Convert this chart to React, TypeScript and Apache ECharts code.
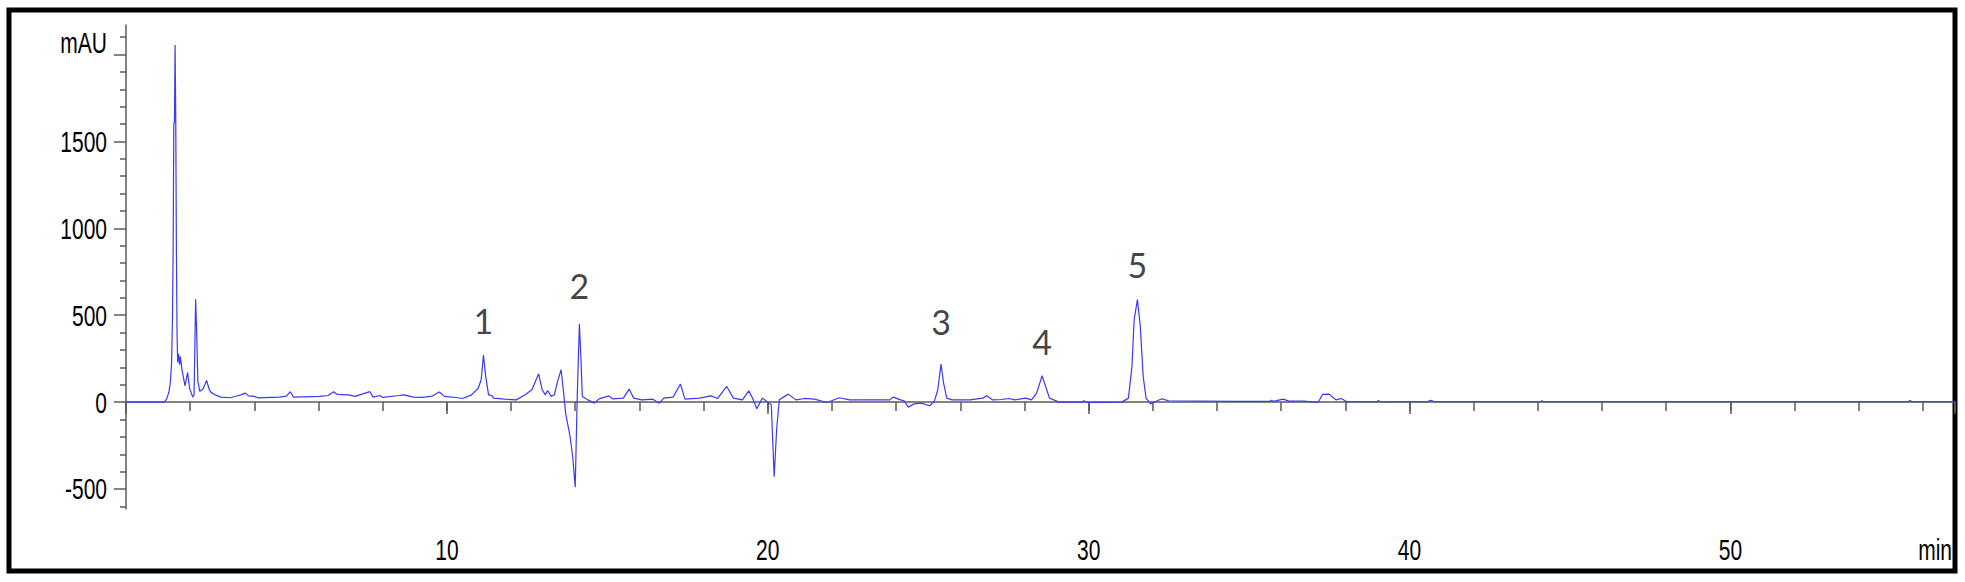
import React, { useEffect, useRef } from "react";
import * as echarts from "echarts";

// Retention time (min) and absorbance (mAU)
const times: number[] = [
  0, 1.2, 1.27, 1.34, 1.38, 1.42, 1.45, 1.47, 1.49, 1.51, 1.53, 1.55, 1.57, 1.59, 1.61, 1.63, 1.65, 1.67, 1.69, 1.75,
  1.84, 1.92, 1.98, 2.08, 2.12, 2.14, 2.17, 2.2, 2.24, 2.3, 2.4, 2.51, 2.6, 2.65, 2.8, 2.96, 3.24, 3.45, 3.58, 3.72,
  3.82, 4.0, 4.1, 4.77, 5.0, 5.12, 5.22, 6.03, 6.3, 6.47, 6.58, 6.93, 7.14, 7.6, 7.7, 7.91, 8.0, 8.5, 8.67, 8.95,
  9.23, 9.55, 9.76, 9.93, 10.35, 10.49, 10.77, 10.98, 11.07, 11.14, 11.21, 11.3, 11.39, 11.46, 11.8, 12.16, 12.44, 12.65, 12.86, 12.97,
  13.07, 13.14, 13.25, 13.35, 13.45, 13.56, 13.64, 13.7, 13.84, 13.92, 14.0, 14.06, 14.13, 14.18, 14.22, 14.39, 14.6, 14.74, 15.05, 15.16,
  15.5, 15.68, 15.82, 16.07, 16.42, 16.62, 16.76, 17.05, 17.28, 17.42, 17.88, 18.23, 18.44, 18.72, 18.93, 19.21, 19.41, 19.55, 19.66, 19.83,
  20.0, 20.11, 20.2, 20.28, 20.36, 20.64, 20.88, 21.15, 21.45, 21.85, 22.23, 22.55, 23.8, 23.91, 24.14, 24.25, 24.38, 24.56, 24.77, 25.05,
  25.19, 25.3, 25.4, 25.48, 25.58, 25.74, 26.3, 26.7, 26.82, 27.0, 27.28, 27.52, 27.7, 28.04, 28.22, 28.38, 28.55, 28.66, 28.78, 29.08,
  29.78, 29.85, 29.92, 30.2, 31.03, 31.24, 31.35, 31.42, 31.52, 31.61, 31.7, 31.79, 31.93, 32.14, 32.28, 32.49, 34.5, 35.63, 35.7, 35.77,
  36.06, 36.24, 36.7, 37.15, 37.29, 37.5, 37.62, 37.71, 37.87, 38.05, 39.0, 39.03, 39.08, 40.55, 40.66, 40.78, 44.08, 44.13, 44.18, 55.55,
  55.6, 55.66, 57,
];
const mAU: number[] = [
  0, 0, 20, 60, 110, 220, 500, 900, 1600, 1610, 2055, 1650, 900, 400, 230, 280, 250, 215, 263, 180,
  94, 171, 80, 29, 40, 250, 592, 420, 120, 62, 75, 125, 70, 56, 40, 29, 25, 35, 42, 52,
  36, 33, 25, 29, 35, 60, 29, 33, 38, 60, 44, 42, 33, 60, 29, 38, 27, 38, 42, 29,
  27, 35, 58, 33, 25, 21, 42, 81, 130, 271, 148, 42, 38, 23, 17, 13, 42, 71, 163, 71,
  42, 67, 33, 42, 119, 186, 52, -63, -198, -313, -490, 13, 450, 244, 33, 13, -6, 19, 36, 19,
  23, 75, 23, 13, 17, -6, 23, 29, 104, 17, 23, 36, 21, 90, 23, 13, 65, 13, -38, 23,
  0, -15, -429, -150, 13, 46, 13, 21, 17, -2, 25, 13, 13, 29, 13, 8, -29, -10, -6, -21,
  4, 71, 219, 110, 23, 13, 13, 23, 37, 13, 15, 21, 13, 23, 13, 52, 152, 90, 23, 0,
  0, 8, -2, -2, 0, 23, 206, 475, 590, 437, 148, 23, -10, 8, 19, 8, 4, 4, 10, 4,
  17, 6, 6, -2, 44, 46, 25, 13, 21, 2, 2, 10, 2, 2, 10, 2, 2, 8, 2, 2,
  9, 2, 2,
];

// Numbered peaks
const peakNames: string[] = ["1", "2", "3", "4", "5"];
const peakTimes: number[] = [11.14, 14.13, 25.4, 28.55, 31.52];
const peakHeights: number[] = [271, 450, 219, 152, 590];

// Axis ticks
const xLabelTicks: number[] = [10, 20, 30, 40, 50];
const yMajorTicks: number[] = [-500, 0, 500, 1000, 1500, 2000];
const yLabelTicks: number[] = [-500, 0, 500, 1000, 1500];
const yMinorTicks: number[] = [-600, -400, -300, -200, -100, 100, 200, 300, 400, 600, 700, 800, 900, 1100, 1200, 1300, 1400, 1600, 1700, 1800, 1900, 2100];
const yUnit = "mAU";
const xUnit = "min";

const X_MIN = 0;
const X_MAX = 57;
const Y_MIN = -615;
const Y_MAX = 2170;

// style constants
const TICK_FONT = '"Liberation Sans", Arial, sans-serif';
const TICK_FONT_SIZE = 30;
const TICK_SCALE_X = 0.7;
const peakLabelGap: number[] = [18, 21, 26, 17, 18];

export default function App() {
  const ref = useRef<HTMLDivElement>(null);

  useEffect(() => {
    if (!ref.current) return;
    const chart = echarts.init(ref.current, undefined, { renderer: "svg" });
    const axisGray = "#5a5a5a";
    const grid = { left: 126, right: 10, top: 25, height: 484 };

    chart.setOption({
      animation: false,
      backgroundColor: "#ffffff",
      grid,
      xAxis: [
        {
          type: "value",
          min: X_MIN,
          max: X_MAX,
          interval: 2,
          position: "bottom",
          axisLine: { show: true, lineStyle: { color: axisGray, width: 1.5 } },
          axisTick: { show: true, length: 9, lineStyle: { color: axisGray, width: 1.5 } },
          axisLabel: { show: false },
          splitLine: { show: false },
        },
        {
          type: "value",
          min: X_MIN,
          max: X_MAX,
          interval: 10,
          position: "bottom",
          axisLine: { show: false },
          axisTick: { show: true, length: 12, lineStyle: { color: axisGray, width: 1.5 } },
          axisLabel: { show: false },
          splitLine: { show: false },
        },
      ],
      yAxis: [
        {
          type: "value",
          min: Y_MIN,
          max: Y_MAX,
          position: "left",
          axisLine: { show: true, lineStyle: { color: axisGray, width: 1.5 } },
          axisTick: { show: true, length: 12, customValues: yMajorTicks, lineStyle: { color: axisGray, width: 1.5 } },
          axisLabel: { show: false },
          splitLine: { show: false },
        },
        {
          type: "value",
          min: Y_MIN,
          max: Y_MAX,
          position: "left",
          axisLine: { show: false },
          axisTick: { show: true, length: 6, customValues: yMinorTicks, lineStyle: { color: axisGray, width: 1.5 } },
          axisLabel: { show: false },
          splitLine: { show: false },
        },
      ],
      series: [
        {
          type: "line",
          xAxisIndex: 0,
          yAxisIndex: 0,
          data: times.map((t, i) => [t, mAU[i]]),
          showSymbol: false,
          symbol: "none",
          lineStyle: { color: "#3a3af5", width: 1.2 },
          smooth: false,
          silent: true,
        },
        {
          type: "scatter",
          xAxisIndex: 0,
          yAxisIndex: 0,
          data: peakTimes.map((t, i) => ({
            value: [t, peakHeights[i]],
            label: { distance: peakLabelGap[i] },
          })),
          symbolSize: 0,
          silent: true,
          label: {
            show: true,
            position: "top",
            fontSize: 34,
            fontFamily: 'Lato, "Open Sans", sans-serif',
            color: "#111",
            formatter: (p: any) => peakNames[p.dataIndex],
          },
        },
      ],
    });

    // Condensed tick labels, placed through the axes' own scales
    const x0 = chart.convertToPixel({ xAxisIndex: 0 }, X_MIN) as number;
    const xEnd = chart.convertToPixel({ xAxisIndex: 0 }, X_MAX) as number;
    const yBottom = chart.convertToPixel({ yAxisIndex: 0 }, Y_MIN) as number;
    const yTop = chart.convertToPixel({ yAxisIndex: 0 }, Y_MAX) as number;
    const labelRight = x0 - 19;
    const xLabelY = yBottom + 41;

    const textStyle = (text: string, align: string) => ({
      text,
      align,
      verticalAlign: "middle",
      fontSize: TICK_FONT_SIZE,
      fontFamily: TICK_FONT,
      fill: "#000",
    });

    const graphics: any[] = [];
    yLabelTicks.forEach((v) => {
      graphics.push({
        type: "text",
        x: labelRight,
        y: chart.convertToPixel({ yAxisIndex: 0 }, v) as number,
        scaleX: TICK_SCALE_X,
        style: textStyle(String(v), "right"),
        silent: true,
      });
    });
    xLabelTicks.forEach((v) => {
      graphics.push({
        type: "text",
        x: chart.convertToPixel({ xAxisIndex: 0 }, v) as number,
        y: xLabelY,
        scaleX: TICK_SCALE_X,
        style: textStyle(String(v), "center"),
        silent: true,
      });
    });
    graphics.push({
      type: "text",
      x: labelRight,
      y: yTop + 18,
      scaleX: TICK_SCALE_X,
      style: textStyle(yUnit, "right"),
      silent: true,
    });
    graphics.push({
      type: "text",
      x: xEnd - 3,
      y: xLabelY,
      scaleX: TICK_SCALE_X,
      style: textStyle(xUnit, "right"),
      silent: true,
    });
    graphics.push({
      type: "rect",
      shape: { x: 9, y: 10, width: 1946, height: 561 },
      style: { fill: "none", stroke: "#000", lineWidth: 5 },
      silent: true,
    });

    chart.setOption({ graphic: graphics });

    return () => {
      chart.dispose();
    };
  }, []);

  return (
    <div
      ref={ref}
      style={{ position: "absolute", left: 0, top: 0, width: 1965, height: 582, background: "#fff" }}
    />
  );
}
